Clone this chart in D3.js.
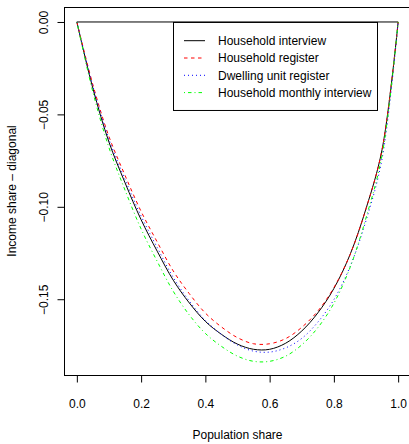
<!DOCTYPE html>
<html>
<head>
<meta charset="utf-8">
<script src="https://cdn.jsdelivr.net/npm/d3@7"></script>
<style>
body { margin: 0; background: #fff; }
text { font-family: "Liberation Sans", Arial, Helvetica, sans-serif; }
</style>
</head>
<body>
<script>
var g_width = 409
var g_height = 444

// population shares where the curves were read
var popShare = [0, 0.05, 0.1, 0.15, 0.2, 0.25, 0.3, 0.35, 0.4, 0.45, 0.5, 0.55, 0.6, 0.65, 0.7, 0.75, 0.8, 0.85, 0.9, 0.95, 1]

// income share minus diagonal, one array per source
var householdInterview = [0, -0.036, -0.065, -0.087, -0.107, -0.124, -0.1397, -0.152, -0.162, -0.169, -0.1743, -0.1771, -0.1771, -0.1738, -0.1672, -0.1574, -0.1442, -0.126, -0.101, -0.069, 0]
var householdRegister = [0, -0.034, -0.062, -0.083, -0.1025, -0.119, -0.1347, -0.147, -0.1575, -0.165, -0.1708, -0.1741, -0.1741, -0.1713, -0.1652, -0.1564, -0.1437, -0.126, -0.101, -0.069, 0]
var dwellingRegister = [0, -0.035, -0.0635, -0.0852, -0.105, -0.122, -0.1382, -0.151, -0.1615, -0.169, -0.1748, -0.1781, -0.1786, -0.1763, -0.1712, -0.1624, -0.1502, -0.1325, -0.1075, -0.074, 0]
var monthlyInterview = [0, -0.038, -0.068, -0.091, -0.112, -0.1295, -0.1457, -0.1585, -0.1685, -0.1755, -0.1808, -0.1836, -0.1836, -0.1808, -0.1747, -0.1654, -0.1522, -0.133, -0.106, -0.072, 0]

var legendLabels = ["Household interview", "Household register", "Dwelling unit register", "Household monthly interview"]
var xTicks = [0, 0.2, 0.4, 0.6, 0.8, 1.0]
var yTicks = [0, -0.05, -0.10, -0.15]

var series = [
    {name: legendLabels[0], values: householdInterview, color: "#000000", dash: null},
    {name: legendLabels[1], values: householdRegister, color: "#ff0000", dash: "3.5,3.5"},
    {name: legendLabels[2], values: dwellingRegister, color: "#0000ff", dash: "1,3"},
    {name: legendLabels[3], values: monthlyInterview, color: "#00ff00", dash: "1,3,3.5,3"}
]

var plot = {left: 64, right: 411, top: 7, bottom: 375}

var svg = d3.select("body").append("svg")
    .attr("width", g_width)
    .attr("height", g_height)

var xScale = d3.scaleLinear().domain([-0.04, 1.04]).range([plot.left, plot.right])
var yScale = d3.scaleLinear().domain([-0.191, 0.0081]).range([plot.bottom, plot.top])

// zero line (Lorenz curve of perfect equality)
svg.append("line")
    .attr("x1", xScale(0)).attr("x2", xScale(1))
    .attr("y1", yScale(0)).attr("y2", yScale(0))
    .attr("stroke", "#000").attr("stroke-width", 1)

var line = d3.line()
    .x(function(d, i){ return xScale(popShare[i]) })
    .y(function(d){ return yScale(d) })
    .curve(d3.curveCatmullRom.alpha(0.5))

series.forEach(function(s){
    svg.append("path")
        .attr("d", line(s.values))
        .attr("fill", "none")
        .attr("stroke", s.color)
        .attr("stroke-width", 1)
        .attr("stroke-dasharray", s.dash)
})

// box
svg.append("rect")
    .attr("x", plot.left + 0.5).attr("y", plot.top + 0.5)
    .attr("width", plot.right - plot.left).attr("height", plot.bottom - plot.top)
    .attr("fill", "none").attr("stroke", "#000")

var xAxis = d3.axisBottom(xScale).tickValues(xTicks).tickSize(7).tickPadding(0)
    .tickFormat(d3.format(".1f"))
var xg = svg.append("g")
    .attr("transform", "translate(0," + (plot.bottom + 0.5) + ")")
    .call(xAxis)
xg.select(".domain").remove()
xg.selectAll("text")
    .attr("y", 32).attr("dy", 0)
    .style("font-size", "12px").attr("fill", "#000")

var yAxis = d3.axisLeft(yScale).tickValues(yTicks).tickSize(7)
    .tickFormat(d3.format(".2f"))
var yg = svg.append("g")
    .attr("transform", "translate(" + (plot.left + 0.5) + ",0)")
    .call(yAxis)
yg.select(".domain").remove()
yg.selectAll("text")
    .attr("transform", "rotate(-90)")
    .attr("x", 0).attr("y", -17).attr("dy", 0)
    .style("text-anchor", "middle")
    .style("font-size", "12px").attr("fill", "#000")

svg.append("text")
    .attr("x", (plot.left + plot.right) / 2).attr("y", 439)
    .attr("text-anchor", "middle")
    .style("font-size", "12px")
    .text("Population share")

svg.append("text")
    .attr("transform", "translate(16," + ((plot.top + plot.bottom) / 2) + ") rotate(-90)")
    .attr("text-anchor", "middle")
    .style("font-size", "12px")
    .text("Income share \u2013 diagonal")

// legend
var legend = svg.append("g")
legend.append("rect")
    .attr("x", 173.5).attr("y", yScale(0) + 0.5)
    .attr("width", 204).attr("height", 88)
    .attr("fill", "#fff").attr("stroke", "#000")

series.forEach(function(s, i){
    var cy = 40.7 + i * 17.3
    legend.append("line")
        .attr("x1", 184).attr("x2", 205)
        .attr("y1", cy).attr("y2", cy)
        .attr("stroke", s.color)
        .attr("stroke-dasharray", s.dash)
    legend.append("text")
        .attr("x", 218).attr("y", cy + 4.3)
        .style("font-size", "12px")
        .text(s.name)
})
</script>
</body>
</html>
